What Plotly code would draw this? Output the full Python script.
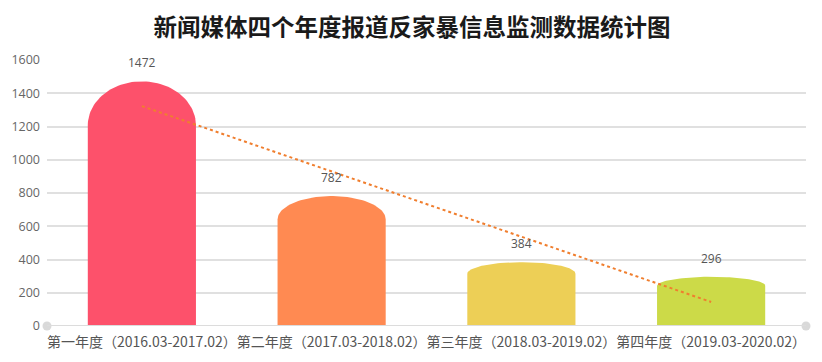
import numpy as np
import plotly.graph_objects as go

categories = ["第一年度（2016.03-2017.02）", "第二年度（2017.03-2018.02）",
              "第三年度（2018.03-2019.02）", "第四年度（2019.03-2020.02）"]
values = [1472, 782, 384, 296]
colors = ["#FD516B", "#FF8A52", "#EDCF56", "#CCDA48"]
y_ticks = [0, 200, 400, 600, 800, 1000, 1200, 1400, 1600]
title = "新闻媒体四个年度报道反家暴信息监测数据统计图"

xs = list(range(1, len(values) + 1))
bar_w = 0.57
cap_frac = 0.18

# page body has an 8px offset
OFF = 8
W, H = 822, 362
L, T, PW, PH = 47 - OFF, 60 - OFF, 759, 266

fig = go.Figure()

for x, v, c in zip(xs, values, colors):
    h = cap_frac * v
    t = np.linspace(0, np.pi, 60)
    px = [x - bar_w / 2, x + bar_w / 2] + list(x + bar_w / 2 * np.cos(t)) + [x - bar_w / 2]
    py = [0, 0] + list(v - h + h * np.sin(t)) + [0]
    fig.add_trace(go.Scatter(x=px, y=py, fill="toself", fillcolor=c, mode="lines",
                             line=dict(width=0, color=c), hoverinfo="skip", showlegend=False))

# linear trendline
k, b = np.polyfit(xs, values, 1)
fig.add_trace(go.Scatter(x=[xs[0], xs[-1]], y=[k * xs[0] + b, k * xs[-1] + b], mode="lines",
                         line=dict(color="#F07E2E", width=2, dash="dot"),
                         hoverinfo="skip", showlegend=False))

fig.add_shape(type="line", xref="x", yref="y", x0=0.5, x1=4.5, y0=0, y1=0,
              line=dict(color="#DCDCDC", width=2), layer="above")

# axis end circles
fig.add_trace(go.Scatter(x=[0.5, 4.5], y=[0, 0], mode="markers",
                         marker=dict(color="#D9D9D9", size=9), cliponaxis=False,
                         hoverinfo="skip", showlegend=False))

for x, v in zip(xs, values):
    fig.add_annotation(x=x, y=v, text=str(v), showarrow=False, yanchor="bottom", yshift=8,
                       font=dict(size=12, color="#555555", family="Open Sans, Noto Sans CJK SC"))

# right border line of the frame
fig.add_shape(type="line", xref="paper", yref="paper", x0=(821 - OFF - L) / PW, x1=(821 - OFF - L) / PW,
              y0=-(H - T - PH) / PH, y1=1 + T / PH, line=dict(color="#E0E0E0", width=2))

fig.update_layout(
    width=W, height=H,
    margin=dict(l=L, r=W - L - PW, t=T, b=H - T - PH, autoexpand=False),
    paper_bgcolor="white", plot_bgcolor="white",
    title=dict(text=title, x=(412 - OFF) / W, xref="container", xanchor="center",
               y=1 - (28 - OFF) / H, yanchor="middle",
               font=dict(size=23.5, color="#1a1a1a", family="Noto Sans CJK SC", weight="bold")),
    xaxis=dict(range=[0.5, 4.5], tickvals=xs, ticktext=categories, showgrid=False,
               zeroline=False, showline=False, ticks="", tickangle=0, automargin=False,
               ticklabelstandoff=6,
               tickfont=dict(size=14, color="#555555", family="Noto Sans CJK SC")),
    yaxis=dict(range=[0, 1600], tickvals=y_ticks, showgrid=True, gridcolor="#E0E0E0", gridwidth=1.5,
               zeroline=False, showline=False, ticks="", ticklabelstandoff=6, automargin=False,
               tickfont=dict(size=12.5, color="#666666", family="Open Sans, Noto Sans CJK SC")),
    showlegend=False,
)

fig.write_html("out.html")
